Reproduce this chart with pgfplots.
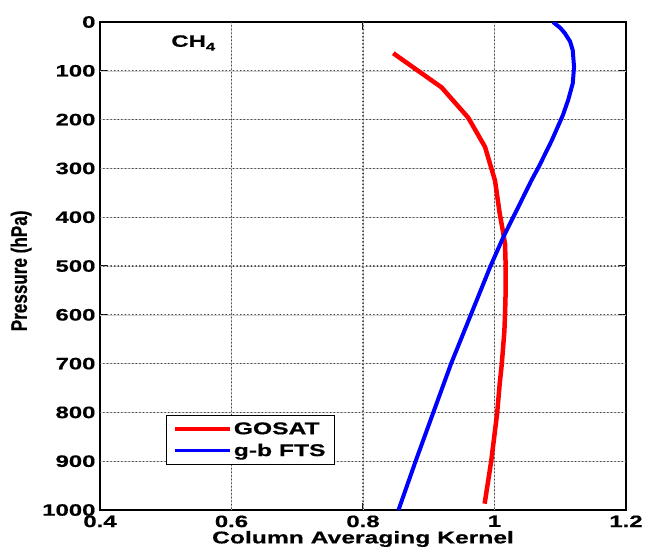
\documentclass[border=0pt]{standalone}
\usepackage{fontspec}
\usepackage{pgfplots}
\pgfplotsset{compat=1.18}
\setmainfont{Liberation Sans}[FakeStretch=1.45, BoldFeatures={FakeBold=0.6}]
\newfontfamily\ylabfont{Liberation Sans}[FakeStretch=0.76, BoldFeatures={FakeBold=0.6}]
\tikzset{gridlight/.style={black!18, line width=0.5pt},
         griddots/.style={black!75, line width=1.1pt, line cap=round, dash pattern=on 0.6pt off 3pt}}
\pgfplotstableread{
x p
0.846 64
0.9195 134
0.960 196
0.9856 256
1.0008 325
1.008 393
1.013 430
1.016 455
1.017 500
1.017 550
1.016 600
1.015 634
1.011 702
1.008 740
1.004 802
0.995 900
0.985 987
}\gosat
\pgfplotstableread{
x p
1.089 0
1.100 12
1.107 23
1.115 40
1.119 58
1.121 92
1.119 126
1.112 160
1.104 191
1.087 243
1.068 295
1.056 325
1.041 366
1.013 442
0.994 500
0.964 600
0.934 700
0.907 800
0.880 900
0.854 1000
}\gbfts
\begin{document}
\begin{tikzpicture}
\begin{axis}[
  width=526pt, height=488pt, scale only axis,
  xmin=0.4, xmax=1.2, ymin=0, ymax=1000, y dir=reverse,
  xtick={0.4,0.6,0.8,1,1.2},
  ytick={0,100,...,1000},
  /pgf/number format/assume math mode=true,
  /pgf/number format/fixed,
  /pgf/number format/1000 sep={},
  tick label style={font=\fontsize{16.5}{17}\selectfont\bfseries},
  xticklabel style={yshift=-2pt},
  yticklabel style={xshift=-1pt},
  tick align=inside,
  major tick length=7pt,
  major tick style={black, line width=1.1pt},
  axis line style={line width=1.3pt},
  xlabel={Column Averaging Kernel},
  xlabel style={font=\fontsize{17}{18}\selectfont\bfseries, at={(axis description cs:0.5,-0.0594)}, anchor=center},
  ylabel={\ylabfont\fontsize{22.5}{23}\selectfont\bfseries Pressure (hPa)},
  ylabel style={at={(axis description cs:-0.150,0.49)}, anchor=center},
  legend style={at={(rel axis cs:0.125,0.092)}, anchor=south west, draw=black, line width=1.1pt,
    font=\fontsize{17}{18}\selectfont\bfseries, inner xsep=7pt, inner ysep=5pt, row sep=4pt, fill=white},
  legend cell align=left,
  legend image code/.code={\draw[#1, line width=3.5pt] (0pt,0pt) -- (55pt,0pt);},
]
\pgfplotsinvokeforeach{100,200,300,400,500,600,700,800,900}{
  \draw[gridlight] (axis cs:0.4,#1) -- (axis cs:1.2,#1);
  \draw[griddots] (axis cs:0.4,#1) -- (axis cs:1.2,#1);
}
\pgfplotsinvokeforeach{0.6,0.8,1}{
  \draw[gridlight] (axis cs:#1,0) -- (axis cs:#1,1000);
  \draw[griddots] (axis cs:#1,0) -- (axis cs:#1,1000);
}
\addplot[red, line width=4.5pt, line join=round] table[x=x, y=p] {\gosat};
\addlegendentry{GOSAT}
\addplot[blue, line width=4pt, line join=round] table[x=x, y=p] {\gbfts};
\addlegendentry{g-b FTS}
\node[anchor=west, font=\fontsize{16.5}{17}\selectfont\bfseries] at (rel axis cs:0.129,0.957) {CH\raisebox{-0.45ex}{\fontsize{11.5}{12}\selectfont 4}};
\end{axis}
\pgfresetboundingbox
\path ([shift={(-100pt,-41pt)}]current axis.south west) rectangle ([shift={(20pt,22pt)}]current axis.north east);
\end{tikzpicture}
\end{document}
